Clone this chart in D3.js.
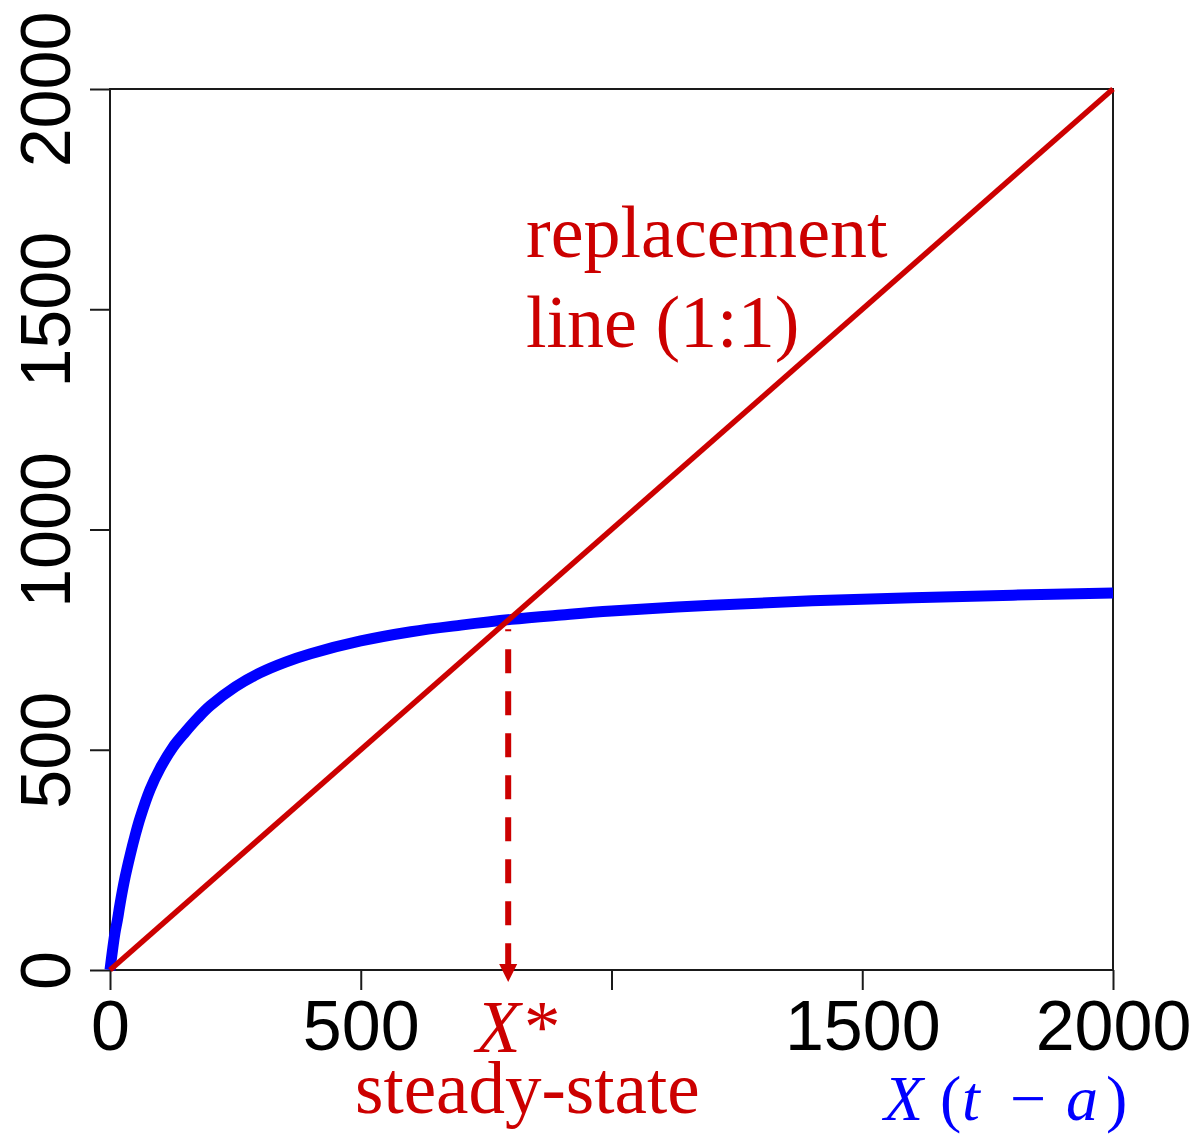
<!DOCTYPE html>
<html>
<head>
<meta charset="utf-8">
<script src="https://cdn.jsdelivr.net/npm/d3@7"></script>
<style>
  html, body { margin: 0; padding: 0; background: #ffffff; }
  svg { display: block; }
</style>
</head>
<body>
<svg id="chart" width="1201" height="1138"></svg>
<script>
// ---- data ----
const curveX = [0, 5, 10, 15, 20, 30, 40, 50, 60, 80, 100, 125, 150, 175, 200, 250, 300, 350, 400, 500, 600, 700, 800, 900, 1000, 1200, 1400, 1600, 1800, 2000];
const curveY = [0, 45, 85, 115, 150, 210, 260, 305, 345, 410, 458, 505, 540, 572, 600, 643, 675, 699, 718, 747, 768, 783, 796, 806, 815, 828, 838, 845, 851, 856];
const replacementX = [0, 2000];
const replacementY = [0, 2000];
const xStar = 794;
const xTicks = [0, 500, 1000, 1500, 2000];
const xTickLabels = ["0", "500", "", "1500", "2000"];
const yTicks = [0, 500, 1000, 1500, 2000];
const yTickLabels = ["0", "500", "1000", "1500", "2000"];

const RED = "#cc0000";
const BLUE = "#0000ff";
const AXIS = "#1a1a1a";

const svg = d3.select("#chart");
const x = d3.scaleLinear().domain([0, 2000]).range([110, 1113]);
const y = d3.scaleLinear().domain([0, 2000]).range([970, 89]);

// ---- frame ----
svg.append("rect")
  .attr("x", x(0)).attr("y", y(2000))
  .attr("width", x(2000) - x(0)).attr("height", y(0) - y(2000))
  .attr("fill", "none").attr("stroke", AXIS).attr("stroke-width", 2);

// ---- x axis ----
const xAxis = d3.axisBottom(x).tickValues(xTicks).tickSize(20).tickSizeOuter(0)
  .tickFormat((d, i) => xTickLabels[i]);
const gx = svg.append("g").attr("transform", `translate(0,${y(0)})`).call(xAxis);
gx.select(".domain").remove();
gx.selectAll(".tick line").attr("stroke", AXIS).attr("stroke-width", 2);
gx.selectAll(".tick text")
  .attr("font-family", "'Liberation Sans', Arial, sans-serif")
  .attr("font-size", 70).attr("fill", "#000")
  .attr("dy", null).attr("y", 80);

// ---- y axis ----
const yAxis = d3.axisLeft(y).tickValues(yTicks).tickSize(20).tickSizeOuter(0)
  .tickFormat((d, i) => yTickLabels[i]);
const gy = svg.append("g").attr("transform", `translate(${x(0)},0)`).call(yAxis);
gy.select(".domain").remove();
gy.selectAll(".tick line").attr("stroke", AXIS).attr("stroke-width", 2);
gy.selectAll(".tick text")
  .attr("font-family", "'Liberation Sans', Arial, sans-serif")
  .attr("font-size", 70).attr("fill", "#000")
  .attr("x", null).attr("dy", null)
  .attr("text-anchor", "middle")
  .attr("transform", "translate(-40,0) rotate(-90)");

// ---- blue curve ----
const curveData = curveX.map((d, i) => [d, curveY[i]]);
svg.append("path")
  .datum(curveData)
  .attr("d", d3.line().x(d => x(d[0])).y(d => y(d[1])).curve(d3.curveCatmullRom.alpha(0.5)))
  .attr("fill", "none").attr("stroke", BLUE).attr("stroke-width", 11)
  .attr("stroke-linejoin", "round");

// ---- replacement line ----
const repData = replacementX.map((d, i) => [d, replacementY[i]]);
svg.append("path")
  .datum(repData)
  .attr("d", d3.line().x(d => x(d[0])).y(d => y(d[1])))
  .attr("fill", "none").attr("stroke", RED).attr("stroke-width", 5.5);

// ---- dashed arrow to X* ----
const ax = x(xStar);
const arrowBase = y(0) - 6;
const arrowTip = y(0) + 12;
svg.append("line")
  .attr("x1", ax).attr("x2", ax)
  .attr("y1", y(xStar) + 9).attr("y2", arrowBase)
  .attr("stroke", RED).attr("stroke-width", 6)
  .attr("stroke-dasharray", "24 18").attr("stroke-dashoffset", 22);
svg.append("path")
  .attr("d", `M${ax - 9},${arrowBase} L${ax + 9},${arrowBase} L${ax},${arrowTip} Z`)
  .attr("fill", RED);

// ---- annotations ----
const serif = "'Liberation Serif', 'Times New Roman', serif";
svg.append("text").attr("x", 526).attr("y", 257)
  .attr("font-family", serif).attr("font-size", 74).attr("fill", RED)
  .text("replacement");
svg.append("text").attr("x", 526).attr("y", 347)
  .attr("font-family", serif).attr("font-size", 74).attr("fill", RED)
  .text("line (1:1)");
svg.append("text").attr("x", 476).attr("y", 1052)
  .attr("font-family", serif).attr("font-size", 73).attr("fill", RED)
  .attr("font-style", "italic")
  .text("X*");
svg.append("text").attr("x", 355).attr("y", 1113)
  .attr("font-family", serif).attr("font-size", 73).attr("fill", RED)
  .text("steady-state");

const lab = svg.append("text").attr("y", 1120)
  .attr("font-family", serif).attr("font-size", 64).attr("fill", BLUE);
lab.append("tspan").attr("x", 884).attr("font-style", "italic").text("X");
lab.append("tspan").attr("x", 940).text("(");
lab.append("tspan").attr("x", 962).attr("font-style", "italic").text("t");
lab.append("tspan").attr("x", 1010).text("\u2212");
lab.append("tspan").attr("x", 1066).attr("font-style", "italic").text("a");
lab.append("tspan").attr("x", 1106).text(")");
</script>
</body>
</html>
